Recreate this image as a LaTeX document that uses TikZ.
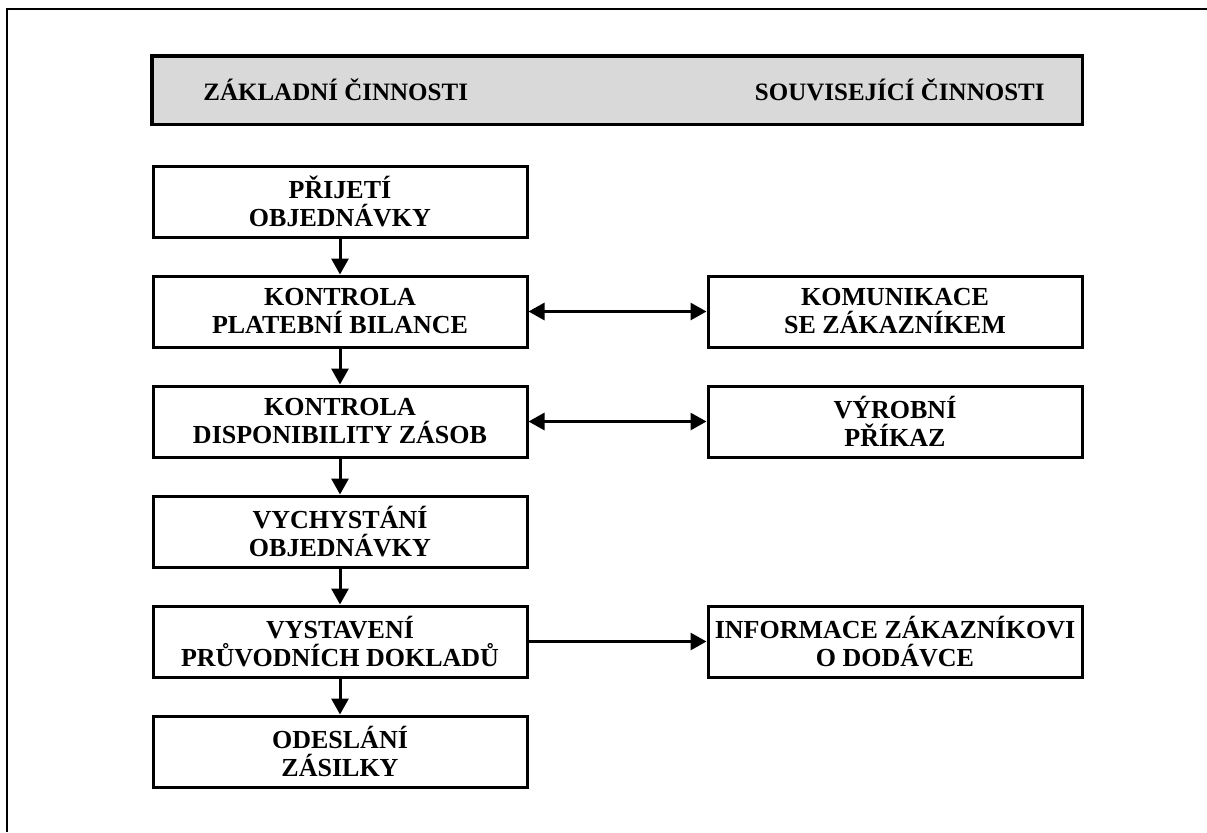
\documentclass[tikz,border=0pt]{standalone}
\usepackage{fontspec}
\setmainfont{Liberation Serif}
\usetikzlibrary{positioning,arrows.meta}

\begin{document}
\begin{tikzpicture}[x=1pt,y=1pt,
    krok/.style={draw, line width=1.5pt, minimum width=187pt, minimum height=35.5pt,
        inner xsep=0.5pt, inner ysep=1pt, align=center, font=\bfseries\fontsize{13}{14}\selectfont},
    nadpis/.style={inner sep=0pt, font=\bfseries\fontsize{12.5}{14}\selectfont},
    sipka/.style={line width=1.5pt, -{Triangle[length=8pt,width=8.5pt]}},
    obe/.style={line width=1.5pt, {Triangle[length=8pt,width=8.5pt]}-{Triangle[length=8pt,width=8.5pt]}}]
    \useasboundingbox (0,0) rectangle (603.5,-416);
    \draw[line width=1pt] (3.25,-416) |- (603.5,-4.5);

    % header
    \node[draw, line width=1.75pt, fill=black!15, minimum width=465.25pt, minimum height=34.25pt] (hlava) at (308.5,-45) {};
    \node[nadpis, anchor=base west] (zakl) at (101.5,-50) {ZÁKLADNÍ ČINNOSTI};
    \node[nadpis, anchor=base east] (souv) at (522.5,-50) {SOUVISEJÍCÍ ČINNOSTI};

    % basic steps
    \node[krok] (prijeti) at (170,-100.75) {PŘIJETÍ\\OBJEDNÁVKY};
    \node[krok, below=18pt of prijeti] (platba) {KONTROLA\\PLATEBNÍ BILANCE};
    \node[krok, below=18pt of platba] (zasoby) {KONTROLA\\DISPONIBILITY ZÁSOB};
    \node[krok, below=18pt of zasoby] (vych) {VYCHYSTÁNÍ\\OBJEDNÁVKY};
    \node[krok, below=18pt of vych] (doklady) {VYSTAVENÍ\\PRŮVODNÍCH DOKLADŮ};
    \node[krok, below=18pt of doklady] (odesl) {ODESLÁNÍ\\ZÁSILKY};

    % related steps
    \node[krok, right=89pt of platba] (komun) {KOMUNIKACE\\SE ZÁKAZNÍKEM};
    \node[krok, right=89pt of zasoby] (vyrob) {VÝROBNÍ\\PŘÍKAZ};
    \node[krok, right=89pt of doklady] (info) {INFORMACE ZÁKAZNÍKOVI\\O DODÁVCE};

    \draw[sipka] (prijeti) -- (platba);
    \draw[sipka] (platba) -- (zasoby);
    \draw[sipka] (zasoby) -- (vych);
    \draw[sipka] (vych) -- (doklady);
    \draw[sipka] (doklady) -- (odesl);

    \draw[obe] (platba) -- (komun);
    \draw[obe] (zasoby) -- (vyrob);
    \draw[sipka] (doklady) -- (info);
\end{tikzpicture}
\end{document}
